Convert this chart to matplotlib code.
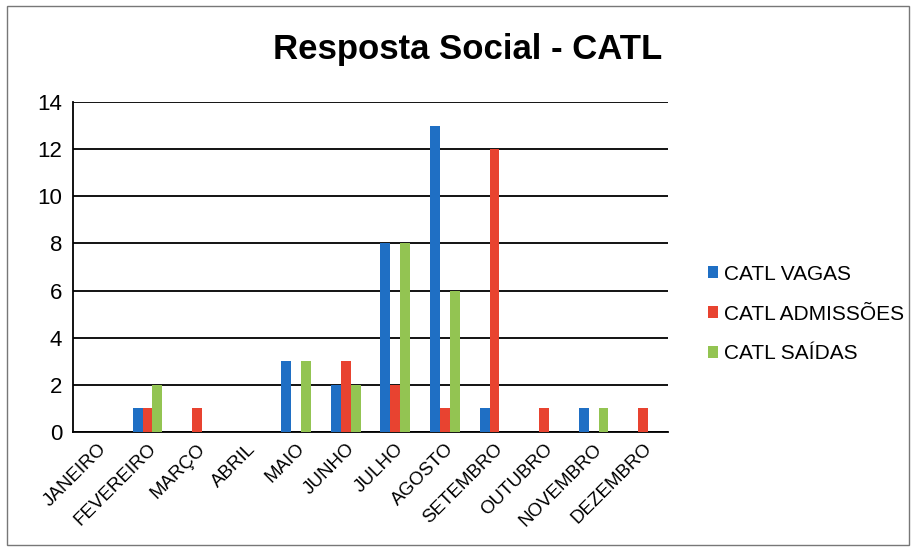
import matplotlib.pyplot as plt
import numpy as np

plt.rcParams['font.family'] = ['Liberation Sans', 'DejaVu Sans']

meses = ['JANEIRO', 'FEVEREIRO', 'MARÇO', 'ABRIL', 'MAIO', 'JUNHO', 'JULHO',
         'AGOSTO', 'SETEMBRO', 'OUTUBRO', 'NOVEMBRO', 'DEZEMBRO']
vagas = [0, 1, 0, 0, 3, 2, 8, 13, 1, 0, 1, 0]
admissoes = [0, 1, 1, 0, 0, 3, 2, 1, 12, 1, 0, 1]
saidas = [0, 2, 0, 0, 3, 2, 8, 6, 0, 0, 1, 0]

series = [('CATL VAGAS', vagas, '#1f6fc4'),
          ('CATL ADMISSÕES', admissoes, '#e84330'),
          ('CATL SAÍDAS', saidas, '#93c452')]

fig = plt.figure(figsize=(9.15, 5.51), dpi=100)
ax = fig.add_axes([0.080, 0.216, 0.650, 0.599])

x = np.arange(len(meses))
w = 0.2
for i, (nome, vals, cor) in enumerate(series):
    ax.bar(x + (i - 1) * w, vals, w, color=cor, label=nome, zorder=3)

ax.set_xlim(-0.5, len(meses) - 0.5)
ax.set_ylim(0, 14)
ax.set_yticks(range(0, 15, 2))
ax.yaxis.grid(True, color='black', linewidth=1.3, zorder=0)
ax.set_xticks(x)
ax.set_xticklabels(meses, rotation=45, ha='right', rotation_mode='anchor', fontsize=13.5)
ax.tick_params(axis='y', labelsize=16, length=0, pad=8)
ax.tick_params(axis='x', length=0, pad=6)
for s in ['top', 'right']:
    ax.spines[s].set_visible(False)
ax.spines['left'].set_linewidth(1.3)
ax.spines['bottom'].set_linewidth(1.3)

fig.text(0.511, 0.91, 'Resposta Social - CATL', ha='center', va='center',
         fontsize=25, fontweight='bold')

ax.legend(loc='center left', bbox_to_anchor=(1.035, 0.357), frameon=False,
          fontsize=15, handlelength=0.5, handleheight=0.5, handletextpad=0.3,
          labelspacing=1.0)

# moldura do gráfico
fig.patches.append(plt.Rectangle((0.008, 0.01), 0.985, 0.98, transform=fig.transFigure,
                                 fill=False, edgecolor='#777777', linewidth=1))

fig.savefig('out.png', dpi=100)
